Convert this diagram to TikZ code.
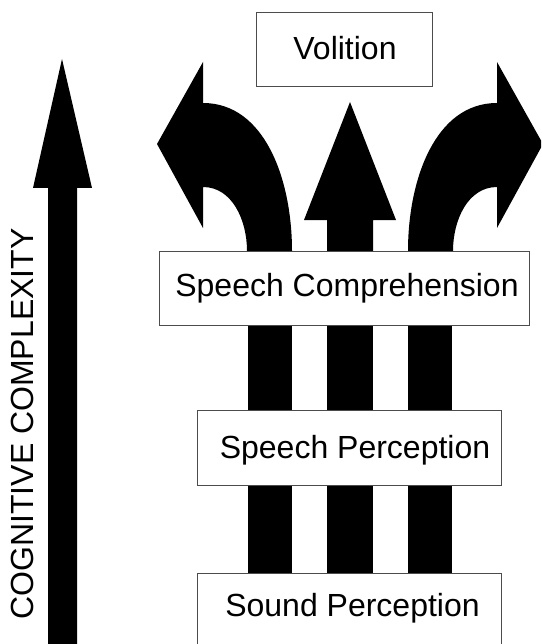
\documentclass[tikz,border=0pt]{standalone}
\usepackage{fontspec}
\setmainfont{Liberation Sans}
\begin{document}
\begin{tikzpicture}[x=1pt,y=-1pt,
  box/.style={draw=black!70,line width=0.9pt,fill=white,rectangle,inner sep=0pt},
  lbl/.style={font=\fontsize{32}{38}\selectfont,inner sep=0pt},
  blk/.style={fill=black,draw=none}]
\path[use as bounding box] (0,0) rectangle (541,644);
\begin{scope}
\clip (0,0) rectangle (541,644);
% big left arrow
\fill[blk] (48,644) -- (48,188) -- (33,188) -- (62,59) -- (92,188) -- (77,188) -- (77,644) -- cycle;
\node[lbl,rotate=90] (cc) at (22,424) {COGNITIVE COMPLEXITY};
% vertical bars
\fill[blk] (248,240) rectangle (292,600);
\fill[blk] (327,240) rectangle (373,600);
\fill[blk] (408,240) rectangle (452,600);
% middle arrow
\fill[blk] (327,260) -- (327,220) -- (304,220) -- (350,102) -- (396,220) -- (373,220) -- (373,260) -- cycle;
% left curved arrow
\fill[blk] (247,260) -- (247,251) .. controls (247,220) and (232,187) .. (203,187) -- (203,228) -- (157,144) -- (203,62) -- (203,103) .. controls (265,103) and (292,180) .. (292,251) -- (292,260) -- cycle;
% right curved arrow
\fill[blk] (453,260) -- (453,251) .. controls (453,220) and (468,187) .. (497,187) -- (497,228) -- (543,144) -- (497,62) -- (497,103) .. controls (435,103) and (408,180) .. (408,251) -- (408,260) -- cycle;
% boxes
\node[box,minimum width=176pt,minimum height=74pt] (vol) at (344,49) {};
\node[lbl] (volt) at (345,48) {Volition};
\node[box,minimum width=370pt,minimum height=74pt] (sc) at (344,288) {};
\node[lbl] (sct) at (347,288) {Speech Comprehension};
\node[box,minimum width=304pt,minimum height=75pt] (sp) at (349,447.5) {};
\node[lbl] (spt) at (355,450) {Speech Perception};
\node[box,minimum width=304pt,minimum height=90pt] (snd) at (349,618) {};
\node[lbl] (sndt) at (352.5,608) {Sound Perception};
\end{scope}
\end{tikzpicture}
\end{document}
